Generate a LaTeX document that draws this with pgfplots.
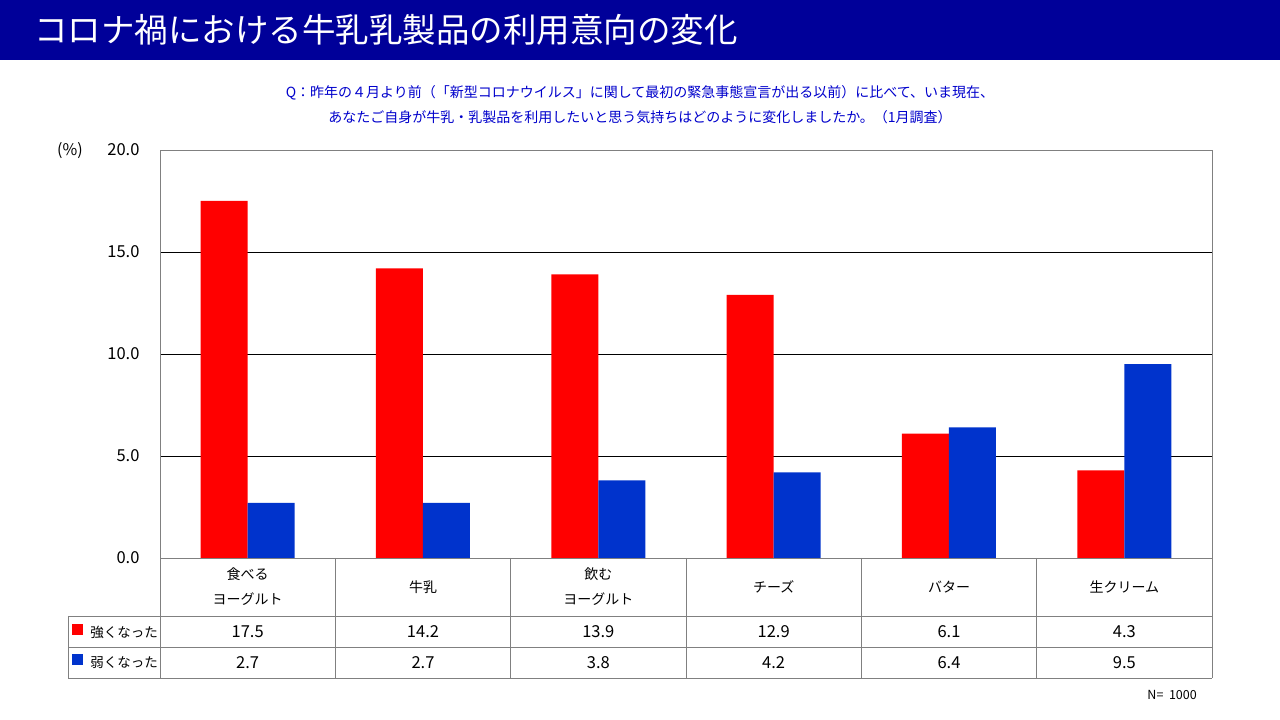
\documentclass[border=0pt]{standalone}
\usepackage{fontspec}
\setmainfont{Noto Sans CJK JP}
\usepackage{pgfplots}
\pgfplotsset{compat=1.18}
\definecolor{barred}{HTML}{FF0000}
\definecolor{barblue}{HTML}{0033CC}
\definecolor{navy}{HTML}{000099}
\definecolor{qblue}{HTML}{0000CC}
\definecolor{tgray}{HTML}{808080}
\begin{document}
\begin{tikzpicture}[x=1bp,y=1bp]
\useasboundingbox (0,0) rectangle (1280,720);
\fill[white] (0,0) rectangle (1280,720);
\fill[navy] (0,660) rectangle (1280,720);
\node[anchor=west,text=white,inner sep=0pt,font=\fontsize{33.5bp}{40bp}\selectfont] at (34,690) {コロナ禍における牛乳乳製品の利用意向の変化};
\node[text=qblue,inner sep=0pt,font=\fontsize{14bp}{17bp}\selectfont] at (640,627) {Q：昨年の４月より前（「新型コロナウイルス」に関して最初の緊急事態宣言が出る以前）に比べて、いま現在、};
\node[text=qblue,inner sep=0pt,font=\fontsize{14bp}{17bp}\selectfont] at (640,603) {あなたご自身が牛乳・乳製品を利用したいと思う気持ちはどのように変化しましたか。（1月調査）};
\node[inner sep=0pt,font=\fontsize{16bp}{19bp}\selectfont] at (70,569) {(\%)};
\begin{axis}[
  at={(160bp,162bp)}, anchor=south west,
  width=1052bp, height=408bp, scale only axis,
  xmin=-0.5, xmax=5.5, ymin=0, ymax=20,
  xtick=\empty, ytick={0,5,10,15,20},
  ymajorgrids, grid style={black, line width=0.8bp},
  major tick length=0pt,
  axis line style={tgray, line width=0.8bp},
  yticklabel style={font=\fontsize{16.5bp}{19bp}\selectfont, xshift=-17bp},
  /pgf/number format/.cd, fixed, fixed zerofill, precision=1, assume math mode=true,
  /pgfplots/.cd,
  ybar=0pt, bar width=47bp,
  clip=false,
]
\addplot[fill=barred, draw=none] coordinates {(0,17.5) (1,14.2) (2,13.9) (3,12.9) (4,6.1) (5,4.3)};
\addplot[fill=barblue, draw=none] coordinates {(0,2.7) (1,2.7) (2,3.8) (3,4.2) (4,6.4) (5,9.5)};
\end{axis}
% data table
\begin{scope}[tgray, line width=0.8bp]
\foreach \k in {0,...,6} { \draw ({160+175.333*\k},162) -- ({160+175.333*\k},42); }
\draw (68,104) -- (1212,104);
\draw (68,73) -- (1212,73);
\draw (68,42) -- (1212,42);
\draw (68,104) -- (68,42);
\end{scope}
\begin{scope}[font=\fontsize{14bp}{25bp}\selectfont]
\node[align=center] at ({160+175.333*0.5},133) {食べる\\ヨーグルト};
\node at ({160+175.333*1.5},133) {牛乳};
\node[align=center] at ({160+175.333*2.5},133) {飲む\\ヨーグルト};
\node at ({160+175.333*3.5},133) {チーズ};
\node at ({160+175.333*4.5},133) {バター};
\node at ({160+175.333*5.5},133) {生クリーム};
\end{scope}
\fill[barred] (72,85) rectangle (83,96);
\fill[barblue] (72,55) rectangle (83,66);
\begin{scope}[font=\fontsize{13.5bp}{16bp}\selectfont]
\node[anchor=east,inner sep=0pt] at (158,88) {強くなった};
\node[anchor=east,inner sep=0pt] at (158,57) {弱くなった};
\end{scope}
\begin{scope}[font=\fontsize{16.5bp}{19bp}\selectfont]
\foreach \v [count=\i from 0] in {17.5,14.2,13.9,12.9,6.1,4.3} { \node at ({160+175.333*(\i+0.5)},88) {\v}; }
\foreach \v [count=\i from 0] in {2.7,2.7,3.8,4.2,6.4,9.5} { \node at ({160+175.333*(\i+0.5)},57) {\v}; }
\end{scope}
\node[anchor=east,inner sep=0pt,font=\fontsize{12.5bp}{15bp}\selectfont] at (1197,25) {N=\ \ 1000};
\end{tikzpicture}
\end{document}
